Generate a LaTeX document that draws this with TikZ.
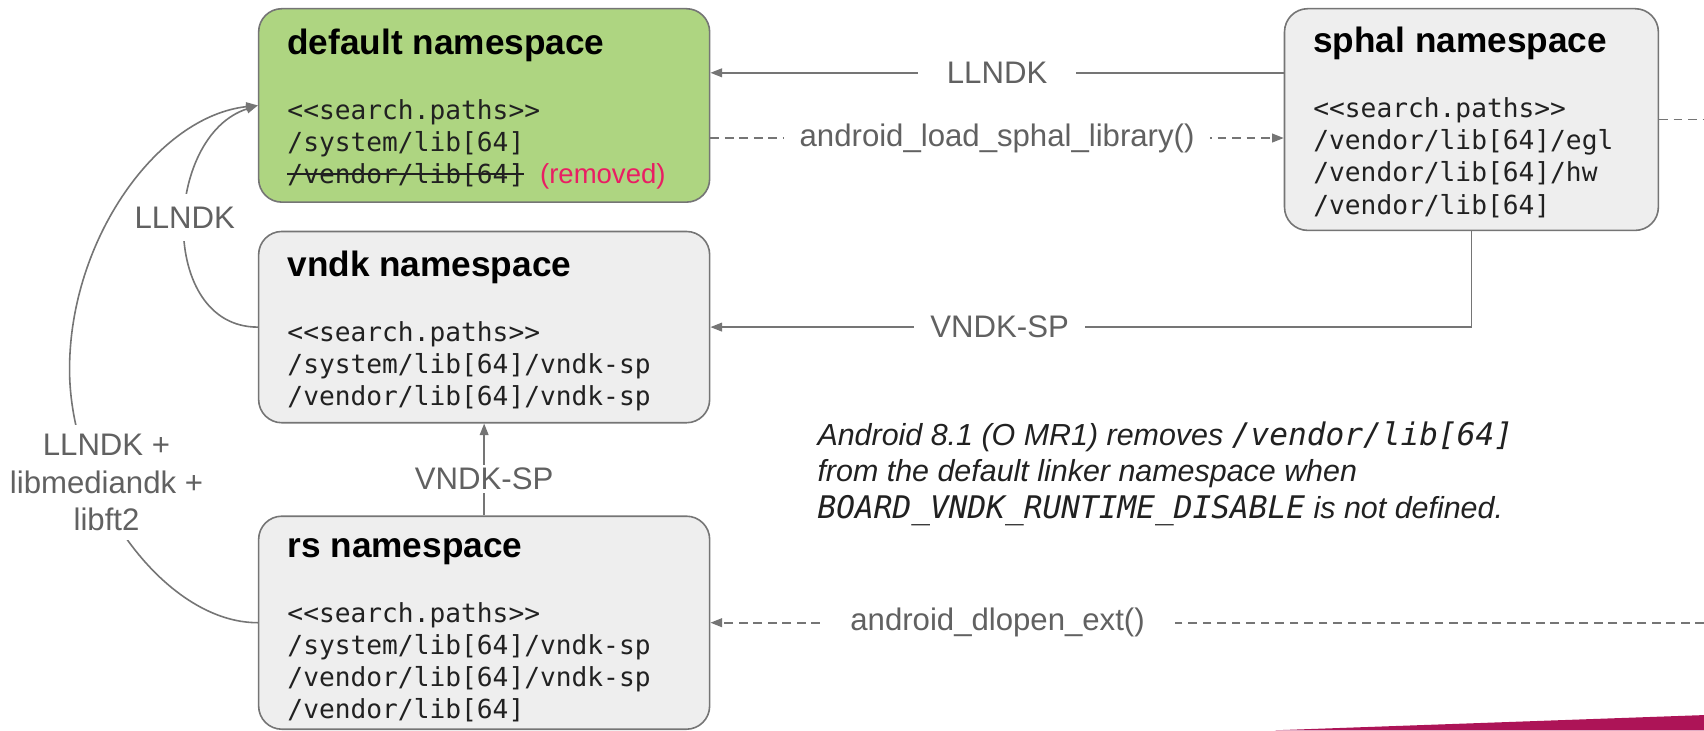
\documentclass[tikz,border=0pt]{standalone}
\usepackage{fontspec}
\setmainfont{Liberation Sans}
\setmonofont{DejaVu Sans Mono}
\usetikzlibrary{arrows.meta,calc}
\definecolor{linegray}{HTML}{757575}
\definecolor{lblgray}{HTML}{616161}
\definecolor{boxfill}{HTML}{EEEEEE}
\definecolor{greenfill}{HTML}{AED581}
\definecolor{removedred}{HTML}{E91E63}
\definecolor{notetext}{HTML}{212121}
\definecolor{stripcol}{HTML}{AD1457}
\newcommand{\firststrut}{\rule{0pt}{18pt}}
\newsavebox{\strikebox}
\newcommand{\mystrike}[1]{\sbox{\strikebox}{#1}\rlap{\raisebox{0.32em}{\rule{\wd\strikebox}{1.1pt}}}\usebox{\strikebox}}
\begin{document}
\begin{tikzpicture}[x=0.75pt,y=-0.75pt,
  nsbox/.style={draw=linegray, line width=1.1pt, rounded corners=16pt, fill=boxfill, minimum width=311.25pt, inner sep=0pt},
  nstitle/.style={anchor=base west, inner sep=0pt, font=\fontsize{24.3}{29}\selectfont\bfseries, text=black},
  nsbody/.style={anchor=north west, inner sep=0pt, align=left, font=\fontsize{18.1}{22.1}\selectfont\ttfamily, text=notetext},
  conn/.style={draw=linegray, line width=1.1pt},
  arr/.style={-{Triangle[length=8pt,width=6pt]}},
  dashline/.style={dash pattern=on 6pt off 4pt},
  lbl/.style={fill=white, text=lblgray, font=\fontsize{21.5}{25.9}\selectfont, inner ysep=3pt, inner xsep=11pt},
  note/.style={anchor=base west, inner sep=0pt, text=notetext, font=\fontsize{21}{25}\selectfont\itshape}
]
\useasboundingbox (0,0) rectangle (1568,672);
\fill[white] (0,0) rectangle (1568,672);

% boxes
\node[nsbox, fill=greenfill, minimum height=133.5pt] (default) at (445.5,97) {};
\node[nsbox, minimum width=258pt, minimum height=153pt] (sphal) at (1354,110) {};
\node[nsbox, minimum height=132pt] (vndk) at (445.5,301) {};
\node[nsbox, minimum height=147pt] (rs) at (445.5,573) {};

% titles
\node[nstitle] (defaultT) at ($(default.north west)+(27,42.5)$) {default namespace};
\node[nstitle] (sphalT) at ($(sphal.north west)+(27,41)$) {sphal namespace};
\node[nstitle] (vndkT) at ($(vndk.north west)+(27,42)$) {vndk namespace};
\node[nstitle] (rsT) at ($(rs.north west)+(27,39)$) {rs namespace};

% bodies
\node[nsbody] (defaultB) at ($(default.north west)+(27,78)$) {\firststrut<<search.paths>>\\/system/lib[64]\\\mystrike{/vendor/lib[64]} {\rmfamily\fontsize{19}{22}\selectfont\color{removedred}(removed)}};
\node[nsbody] (sphalB) at ($(sphal.north west)+(27,77)$) {\firststrut<<search.paths>>\\/vendor/lib[64]/egl\\/vendor/lib[64]/hw\\/vendor/lib[64]};
\node[nsbody] (vndkB) at ($(vndk.north west)+(27,78)$) {\firststrut<<search.paths>>\\/system/lib[64]/vndk-sp\\/vendor/lib[64]/vndk-sp};
\node[nsbody] (rsB) at ($(rs.north west)+(27,74)$) {\firststrut<<search.paths>>\\/system/lib[64]/vndk-sp\\/vendor/lib[64]/vndk-sp\\/vendor/lib[64]};

% helper coordinates
\coordinate (yA) at (0,67);
\coordinate (yB) at (0,127);
\coordinate (edgeX) at (1568,0);

% connectors
\draw[conn,arr] (sphal.west |- yA) -- node[lbl, inner xsep=20pt]{LLNDK} (default.east |- yA);
\draw[conn,dashline,arr] (default.east |- yB) -- node[lbl, inner xsep=11pt]{android\_load\_sphal\_library()} (sphal.west |- yB);
\draw[conn,arr] (sphal.south) |- node[lbl, pos=0.81, inner xsep=11pt]{VNDK-SP} (vndk.east);
\draw[conn,arr] (rs.north) -- node[lbl, pos=0.4, inner xsep=6pt, inner ysep=2pt]{VNDK-SP} (vndk.south);
\draw[conn,dashline,arr] (rs.east -| edgeX) -- node[lbl, pos=0.711, inner xsep=21pt]{android\_dlopen\_ext()} (rs.east);
\draw[conn,dashline] (sphal.east) -- (sphal.east -| edgeX);

\draw[conn,arr] (vndk.west) .. controls (145,301) and (150,125) .. (default.west);
\draw[conn,arr] (rs.west) .. controls (150,573) and (64,450) .. (64,340) .. controls (64,220) and (145,107) .. (default.west);
\node[lbl, inner xsep=4pt, inner ysep=9pt] (llndkA) at (170,200) {LLNDK};
\node[lbl, align=center, inner xsep=4pt, inner ysep=6pt] (llndkB) at (98,444) {LLNDK +\\libmediandk +\\libft2};

% note
\node[note] (note1) at (752,409.5) {Android 8.1 (O MR1) removes {\fontsize{21.5}{25}\selectfont\ttfamily /vendor/lib[64]}};
\node[note] (note2) at (752,443) {from the default linker namespace when};
\node[note] (note3) at (752,477) {{\fontsize{21.5}{25}\selectfont\ttfamily BOARD\_VNDK\_RUNTIME\_DISABLE} is not defined.};

% bottom strip
\fill[stripcol] (1173,672) -- (1568,658) -- (1568,672) -- cycle;
\end{tikzpicture}
\end{document}
